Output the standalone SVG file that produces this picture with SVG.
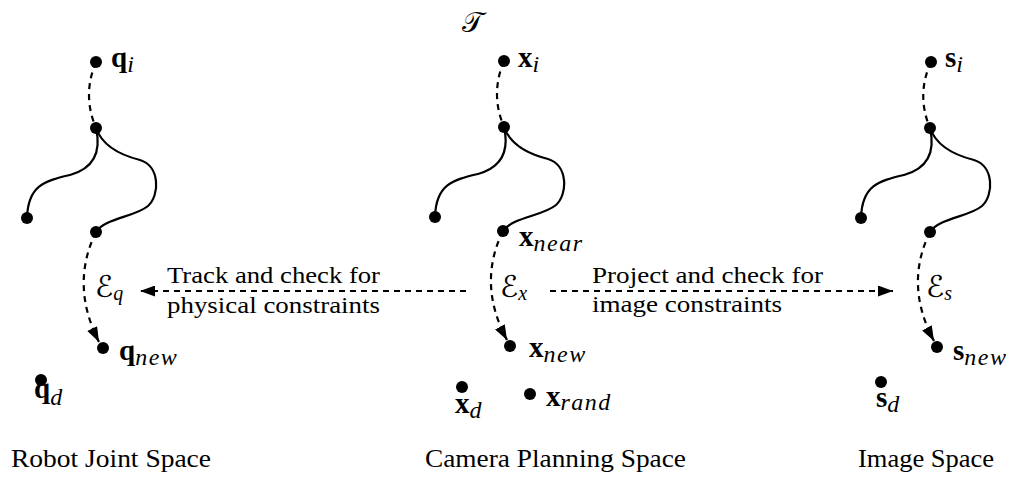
<svg xmlns="http://www.w3.org/2000/svg" width="1019" height="477" viewBox="0 0 1019 477">
<defs>
<style>
.dot{fill:#000}
.tree{fill:none;stroke:#000;stroke-width:2.2}
.dash{fill:none;stroke:#000;stroke-width:2.2;stroke-dasharray:6,5}
text{font-family:'Liberation Serif','DejaVu Serif',serif;fill:#000}
.txt{font-size:24px}
.lbl{font-size:25px}
.m{font-size:29px;font-weight:bold}
.sub{font-size:24px;font-weight:normal;font-style:italic;letter-spacing:1.5px}
.cal{font-family:'DejaVu Serif','DejaVu Sans',serif;font-size:30px;font-style:normal}
.calsub{font-family:'Liberation Serif',serif;font-size:20px;font-style:italic}
</style>
<marker id="ah" viewBox="0 0 15 11" refX="15" refY="5.5" markerWidth="15" markerHeight="11" markerUnits="userSpaceOnUse" orient="auto">
<path d="M0,0 L15,5.5 L0,11 z" fill="#000"/>
</marker>
</defs>

<text class="cal" x="462" y="32" style="font-size:28px">𝒯</text>

<g id="connectors">
  <!-- left tree -->
  <path class="dash" d="M96,62 Q82,95 96,128"/>
  <path class="tree" d="M96,128 C101,150 95,168 70,175 C45,181 28,185 27,218"/>
  <path class="tree" d="M96,128 C102,145 120,155 140,160 C160,166 160,195 148,206 C135,217 105,218 96,232"/>
  <path class="dash" d="M96,232 Q70,285 99,342" marker-end="url(#ah)"/>
  <!-- center tree -->
  <path class="dash" d="M504,61 Q490,94 504,127"/>
  <path class="tree" d="M504,127 C509,149 503,167 478,174 C453,180 436,184 435,217"/>
  <path class="tree" d="M504,127 C510,144 528,154 548,159 C568,165 568,194 556,205 C543,216 513,217 503,231"/>
  <path class="dash" d="M503,231 Q477,284 507,340" marker-end="url(#ah)"/>
  <!-- right tree -->
  <path class="dash" d="M931,62 Q916,95 930,128"/>
  <path class="tree" d="M930,128 C935,150 929,168 904,175 C879,181 862,185 861,218"/>
  <path class="tree" d="M930,128 C936,145 954,155 974,160 C994,166 994,195 982,206 C969,217 939,218 930,232"/>
  <path class="dash" d="M930,232 Q904,285 934,341" marker-end="url(#ah)"/>
  <!-- horizontal arrows -->
  <path class="dash" d="M466,291 L140,291" marker-end="url(#ah)"/>
  <path class="dash" d="M550,291 L893,291" marker-end="url(#ah)"/>
</g>

<g id="edge-labels">
  <text class="cal" x="95" y="297">ℰ<tspan class="calsub" dy="3">q</tspan></text>
  <text class="cal" x="500" y="297">ℰ<tspan class="calsub" dy="3">x</tspan></text>
  <text class="cal" x="926" y="297">ℰ<tspan class="calsub" dy="3">s</tspan></text>
  <text class="txt" x="167" y="283" textLength="213" lengthAdjust="spacingAndGlyphs">Track and check for</text>
  <text class="txt" x="167" y="313" textLength="213" lengthAdjust="spacingAndGlyphs">physical constraints</text>
  <text class="txt" x="592" y="283" textLength="231" lengthAdjust="spacingAndGlyphs">Project and check for</text>
  <text class="txt" x="592" y="312" textLength="190" lengthAdjust="spacingAndGlyphs">image constraints</text>
</g>

<g id="node-q-i"><circle class="dot" cx="96" cy="62" r="6"/><text class="m" x="111" y="67">q<tspan class="sub" dy="5">i</tspan></text></g>
<g id="node-q-mid"><circle class="dot" cx="96" cy="128" r="6"/></g>
<g id="node-q-leaf"><circle class="dot" cx="27" cy="218" r="6"/></g>
<g id="node-q-near"><circle class="dot" cx="96" cy="232" r="6"/></g>
<g id="node-q-new"><circle class="dot" cx="103" cy="348" r="6"/><text class="m" x="119" y="360">q<tspan class="sub" dy="5">new</tspan></text></g>
<g id="node-q-d"><circle class="dot" cx="41" cy="380" r="6"/><text class="m" x="34" y="398">q<tspan class="sub" dy="7">d</tspan></text></g>

<g id="node-x-i"><circle class="dot" cx="504" cy="61" r="6"/><text class="m" x="518" y="67">x<tspan class="sub" dy="5">i</tspan></text></g>
<g id="node-x-mid"><circle class="dot" cx="504" cy="127" r="6"/></g>
<g id="node-x-leaf"><circle class="dot" cx="435" cy="217" r="6"/></g>
<g id="node-x-near"><circle class="dot" cx="503" cy="231" r="6"/><text class="m" x="519" y="246">x<tspan class="sub" dy="5">near</tspan></text></g>
<g id="node-x-new"><circle class="dot" cx="510" cy="346" r="6"/><text class="m" x="529" y="357">x<tspan class="sub" dy="5">new</tspan></text></g>
<g id="node-x-d"><circle class="dot" cx="462" cy="387" r="6"/><text class="m" x="455" y="413">x<tspan class="sub" dy="5">d</tspan></text></g>
<g id="node-x-rand"><circle class="dot" cx="530" cy="394" r="6"/><text class="m" x="546" y="406">x<tspan class="sub" dy="4">rand</tspan></text></g>

<g id="node-s-i"><circle class="dot" cx="931" cy="62" r="6"/><text class="m" x="945" y="67">s<tspan class="sub" dy="5">i</tspan></text></g>
<g id="node-s-mid"><circle class="dot" cx="930" cy="128" r="6"/></g>
<g id="node-s-leaf"><circle class="dot" cx="861" cy="218" r="6"/></g>
<g id="node-s-near"><circle class="dot" cx="930" cy="232" r="6"/></g>
<g id="node-s-new"><circle class="dot" cx="937" cy="347" r="6"/><text class="m" x="953" y="360">s<tspan class="sub" dy="5">new</tspan></text></g>
<g id="node-s-d"><circle class="dot" cx="881" cy="382" r="6"/><text class="m" x="876" y="407">s<tspan class="sub" dy="5">d</tspan></text></g>

<g id="space-labels">
  <text class="lbl" x="11" y="467" textLength="200" lengthAdjust="spacingAndGlyphs">Robot Joint Space</text>
  <text class="lbl" x="425" y="467" textLength="261" lengthAdjust="spacingAndGlyphs">Camera Planning Space</text>
  <text class="lbl" x="858" y="467" textLength="136" lengthAdjust="spacingAndGlyphs">Image Space</text>
</g>
</svg>
